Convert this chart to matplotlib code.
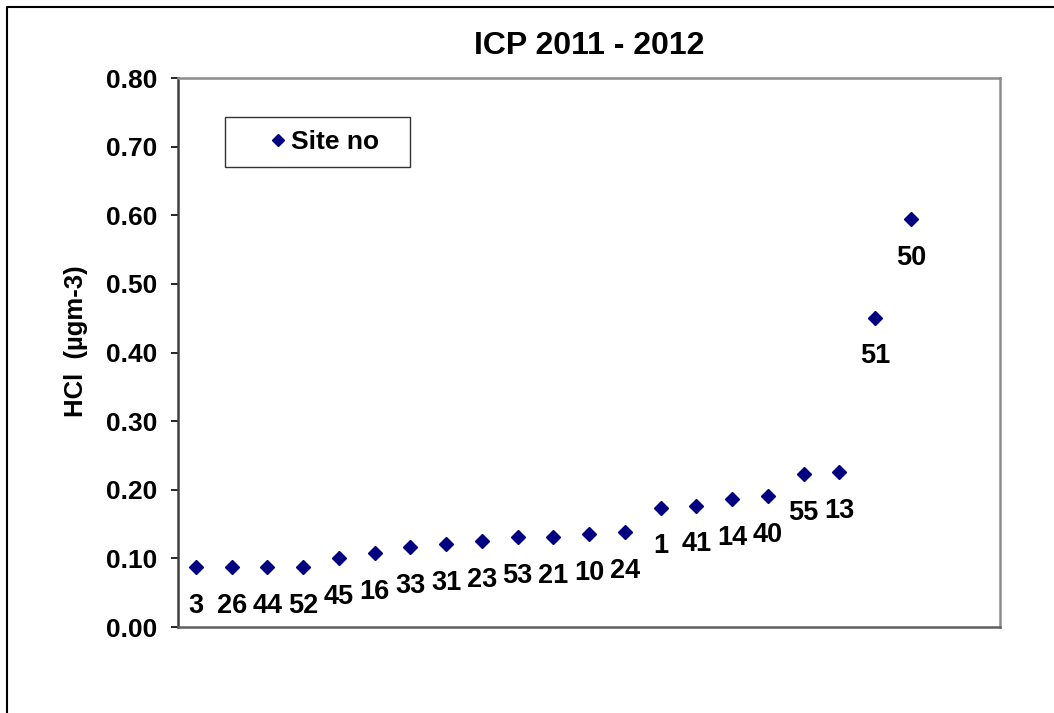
import matplotlib
matplotlib.use("Agg")
import matplotlib.pyplot as plt
from matplotlib.lines import Line2D

plt.rcParams["font.family"] = ["Liberation Sans", "DejaVu Sans"]
plt.rcParams["font.weight"] = "bold"

# --- Data (sites sorted by HCl concentration) ---
site_labels = ["3", "26", "44", "52", "45", "16", "33", "31", "23", "53", "21",
               "10", "24", "1", "41", "14", "40", "55", "13", "51", "50"]
hcl_values = [0.087, 0.087, 0.087, 0.087, 0.101, 0.108, 0.117, 0.121, 0.125,
              0.131, 0.131, 0.136, 0.138, 0.174, 0.177, 0.187, 0.191, 0.223,
              0.226, 0.451, 0.594]
n_slots = 23
y_ticks = [0.0, 0.1, 0.2, 0.3, 0.4, 0.5, 0.6, 0.7, 0.8]

positions = list(range(1, len(hcl_values) + 1))

fig = plt.figure(figsize=(10.54, 7.13), dpi=100)
ax = fig.add_axes([0.169, 0.1206, 0.78, 0.77])

ax.plot(positions, hcl_values, linestyle="none", marker="D", markersize=7,
        color="#000080", label="Site no")

for x, y, lab in zip(positions, hcl_values, site_labels):
    ax.annotate(lab, (x, y), xytext=(0, -28), textcoords="offset points",
                ha="center", va="center", fontsize=19.5, fontweight="bold")

ax.set_xlim(0.5, n_slots + 0.5)
ax.set_ylim(0, 0.8)
ax.set_yticks(y_ticks)
ax.set_yticklabels([f"{t:.2f}" for t in y_ticks], fontsize=19, fontweight="bold")
ax.set_xticks([])
ax.tick_params(axis="y", direction="out", length=5, width=1.2, pad=10)

ax.set_ylabel("HCl  (µgm-3)", fontsize=18.5, fontweight="bold")
ax.yaxis.set_label_coords(-0.11, 0.52)
ax.set_title("ICP 2011 - 2012", fontsize=23, fontweight="bold", pad=17)

for side in ["top", "right"]:
    ax.spines[side].set_color("#8c8c8c")
    ax.spines[side].set_linewidth(1.8)
ax.spines["left"].set_color("#404040")
ax.spines["left"].set_linewidth(1.8)
ax.spines["bottom"].set_color("#606060")
ax.spines["bottom"].set_linewidth(1.8)

leg = ax.legend(loc="upper left", bbox_to_anchor=(0.0572, 0.840, 0.225, 0.089),
                mode="expand", fontsize=19, frameon=True, fancybox=False,
                edgecolor="black", handlelength=3.0, handletextpad=-1.0,
                borderpad=0.5, borderaxespad=0, markerscale=0.9)
leg.get_frame().set_linewidth(1.0)
leg.get_texts()[0].set_fontweight("bold")

# figure border (cropped on right/bottom)
bx, by = 7 / 1054, 1 - 7 / 713
fig.add_artist(Line2D([bx, bx, 1], [0, by, by], transform=fig.transFigure,
                      color="black", linewidth=1.5))

fig.savefig("out.png", dpi=100)
